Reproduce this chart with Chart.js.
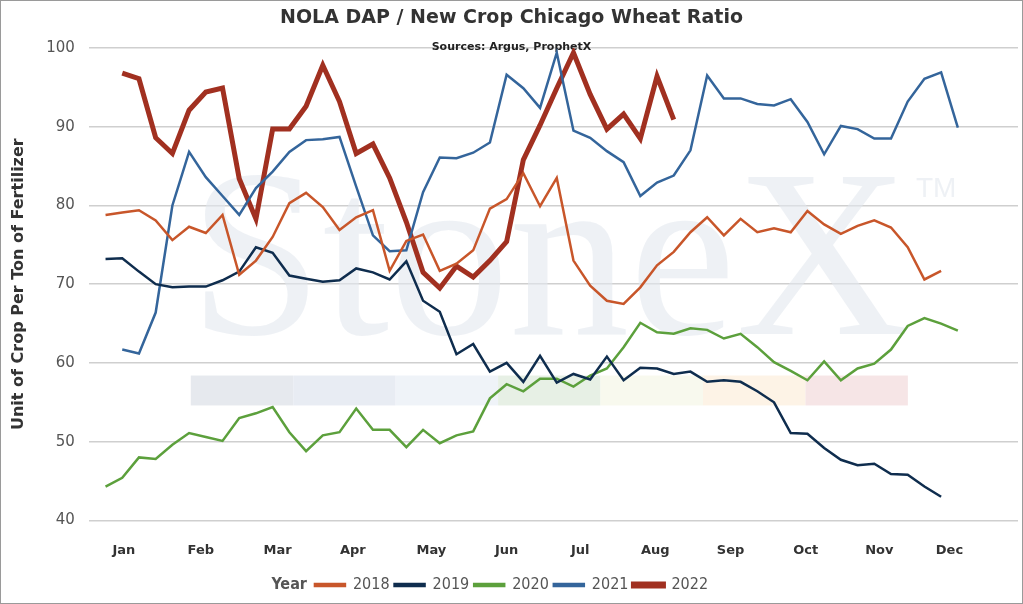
<!DOCTYPE html>
<html>
<head>
<meta charset="utf-8">
<script src="https://cdn.jsdelivr.net/npm/chart.js@4"></script>
<style>
  html, body { margin: 0; padding: 0; background: #fff; }
  #wrap { width: 1021px; height: 602px; border: 1px solid #9a9a9a; position: relative; }
</style>
</head>
<body>
<div id="wrap"><canvas id="ratioChart" width="1021" height="602"></canvas></div>
<script>
// weekly ratio values, week 1..52 (null = no data)
const weeks = Array.from({length: 52}, (_, i) => i + 1);
const series2018 = [78.8,79.1,79.4,78.1,75.6,77.3,76.5,78.8,71.2,73.0,76.0,80.3,81.6,79.8,76.9,78.5,79.4,71.7,75.5,76.3,71.7,72.6,74.3,79.6,80.8,84.1,79.9,83.5,73.0,69.8,67.9,67.5,69.6,72.4,74.1,76.6,78.5,76.2,78.3,76.6,77.1,76.6,79.3,77.6,76.4,77.4,78.1,77.2,74.7,70.6,71.7,null];
const series2019 = [73.2,73.3,71.6,70.0,69.6,69.7,69.7,70.5,71.6,74.7,74.0,71.1,70.7,70.3,70.5,72.0,71.5,70.6,72.9,67.9,66.5,61.1,62.4,58.9,60.0,57.6,60.9,57.5,58.6,57.9,60.8,57.8,59.4,59.3,58.6,58.9,57.6,57.8,57.6,56.4,55.0,51.1,51.0,49.2,47.7,47.0,47.2,45.9,45.8,44.3,43.0,null];
const series2020 = [44.3,45.4,48.0,47.8,49.6,51.1,50.6,50.1,53.0,53.6,54.4,51.2,48.8,50.8,51.2,54.2,51.5,51.5,49.3,51.5,49.8,50.8,51.3,55.5,57.3,56.4,58.0,58.0,57.0,58.4,59.3,62.0,65.1,63.9,63.7,64.4,64.2,63.1,63.7,62.0,60.1,59.0,57.8,60.2,57.8,59.3,59.9,61.7,64.7,65.7,65.0,64.1];
const series2021 = [null,61.7,61.2,66.4,80.0,86.8,83.6,81.2,78.8,82.2,84.3,86.8,88.3,88.4,88.7,82.4,76.2,74.2,74.3,81.7,86.1,86.0,86.7,88.0,96.6,94.9,92.4,99.4,89.5,88.6,86.9,85.5,81.2,82.9,83.8,87.0,96.5,93.6,93.6,92.9,92.7,93.5,90.6,86.5,90.1,89.7,88.5,88.5,93.2,96.1,96.9,89.9];
const series2022 = [null,96.8,96.1,88.6,86.6,92.1,94.4,94.9,83.4,78.3,89.7,89.7,92.6,97.8,93.2,86.6,87.8,83.5,77.9,71.5,69.5,72.3,70.9,73.0,75.4,85.8,90.2,94.9,99.4,94.1,89.7,91.6,88.5,96.4,90.9];
const monthLabels = ['Jan','Feb','Mar','Apr','May','Jun','Jul','Aug','Sep','Oct','Nov','Dec'];
const monthWeeks = [2.1,6.7,11.3,15.8,20.5,25.0,29.4,33.9,38.4,42.9,47.3,51.5];
const yearLabels = ['2018','2019','2020','2021','2022'];
const yearColors = ['#c8562a','#0f2d4e','#5ca03c','#34659b','#a13020'];

function toPoints(arr) {
  return arr.map((v, i) => ({x: weeks[i], y: v}));
}
const allSeries = [series2018, series2019, series2020, series2021, series2022];

// watermark + seasonal band behind the lines
const backdrop = {
  id: 'backdrop',
  beforeDatasetsDraw(chart) {
    const c = chart.ctx;
    const xs = chart.scales.x, ys = chart.scales.y;
    const bands = ['#e6e9ee','#e8ecf3','#eff3f8','#e7f0e5','#f8f9ee','#fdf3e6','#f6e5e6'];
    const top = ys.getPixelForValue(58.4), bot = ys.getPixelForValue(54.6);
    c.save();
    c.fillStyle = 'rgba(226,231,239,0.6)';
    c.font = '240px "Liberation Serif", serif';
    c.textBaseline = 'alphabetic';
    c.fillText('StoneX', 188, 333);
    c.font = '28px "Liberation Sans", sans-serif';
    c.fillText('TM', 915, 196);
    bands.forEach((col, i) => {
      const l = xs.getPixelForValue(6.1 + i * 6.13), r = xs.getPixelForValue(6.1 + (i + 1) * 6.13);
      c.fillStyle = col;
      c.fillRect(l, top, r - l, bot - top);
    });
    c.restore();
  }
};

// "Year" caption inline, left of the legend items
const legendCaption = {
  id: 'legendCaption',
  afterDraw(chart) {
    const lg = chart.legend;
    if (!lg.legendHitBoxes || !lg.legendHitBoxes.length) return;
    const b = lg.legendHitBoxes[0];
    const c = chart.ctx;
    c.save();
    c.fillStyle = '#555';
    c.font = 'bold 16px "DejaVu Sans Condensed", sans-serif';
    c.textAlign = 'right';
    c.textBaseline = 'middle';
    c.fillText('Year', b.left - 8, b.top + b.height / 2);
    c.restore();
  }
};

new Chart(document.getElementById('ratioChart'), {
  type: 'line',
  data: {
    datasets: allSeries.map((s, i) => ({
      label: yearLabels[i],
      data: toPoints(s),
      borderColor: yearColors[i],
      backgroundColor: yearColors[i],
      borderWidth: i === 4 ? 5 : 2.5,
      pointRadius: 0,
      tension: 0,
      spanGaps: false
    }))
  },
  options: {
    responsive: false,
    animation: false,
    layout: { padding: { left: 4, right: 4, top: 0, bottom: 0 } },
    plugins: {
      title: {
        display: true,
        text: 'NOLA DAP / New Crop Chicago Wheat Ratio',
        color: '#333',
        font: { family: 'Verdana, "DejaVu Sans", sans-serif', size: 19, weight: 'bold' },
        padding: { top: 6, bottom: 11 }
      },
      subtitle: {
        display: true,
        text: 'Sources: Argus, ProphetX',
        color: '#222',
        font: { family: 'Verdana, "DejaVu Sans", sans-serif', size: 11, weight: 'bold' },
        padding: { bottom: -6 }
      },
      legend: {
        position: 'bottom',
        labels: {
          color: '#555',
          font: { size: 16, family: '"DejaVu Sans Condensed", sans-serif' },
          boxWidth: 30, boxHeight: 2, padding: 5
        }
      },
      tooltip: { enabled: false }
    },
    scales: {
      x: {
        type: 'linear',
        min: 0,
        max: 55.6,
        grid: { display: false },
        border: { display: false },
        afterBuildTicks: axis => { axis.ticks = monthWeeks.map(v => ({ value: v })); },
        ticks: {
          autoSkip: false,
          maxRotation: 0,
          color: '#333',
          font: { size: 13, weight: 'bold', family: 'Verdana, "DejaVu Sans", sans-serif' },
          padding: 14,
          callback: (v, i) => monthLabels[i]
        }
      },
      y: {
        min: 40,
        max: 100,
        ticks: { stepSize: 10, color: '#555', font: { size: 15, family: 'Verdana, "DejaVu Sans", sans-serif' }, padding: 14 },
        grid: { color: '#cfcfcf', lineWidth: 1.5, drawTicks: false },
        border: { display: false },
        title: {
          display: true,
          text: 'Unit of Crop Per Ton of Fertilizer',
          color: '#333',
          font: { size: 16, weight: 'bold', family: 'Verdana, "DejaVu Sans", sans-serif' }
        }
      }
    }
  },
  plugins: [backdrop, legendCaption]
});
</script>
</body>
</html>
